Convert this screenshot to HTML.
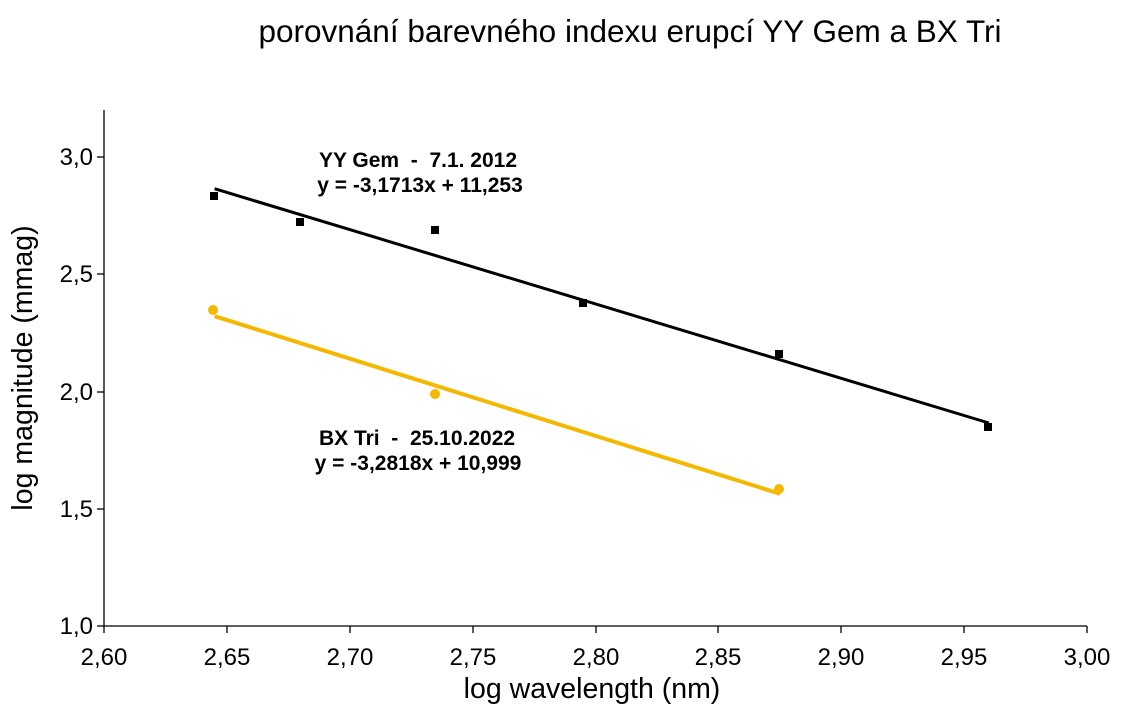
<!DOCTYPE html><html><head><style>body{margin:0;background:#fff}svg{display:block}text{font-family:"Liberation Sans",Arial,sans-serif;fill:#000;white-space:pre}</style></head><body>
<svg width="1125" height="719" viewBox="0 0 1125 719">
<text x="630" y="42" font-size="31.5" text-anchor="middle">porovnání barevného indexu erupcí YY Gem a BX Tri</text>
<g stroke="#000" stroke-width="1.3">
<line x1="104" y1="110" x2="104" y2="626"/><line x1="104" y1="626" x2="1087" y2="626"/>
<line x1="97" y1="157" x2="104" y2="157"/><line x1="97" y1="274" x2="104" y2="274"/><line x1="97" y1="392" x2="104" y2="392"/><line x1="97" y1="509" x2="104" y2="509"/><line x1="97" y1="626" x2="104" y2="626"/>
<line x1="104" y1="626" x2="104" y2="633"/><line x1="227" y1="626" x2="227" y2="633"/><line x1="350" y1="626" x2="350" y2="633"/><line x1="473" y1="626" x2="473" y2="633"/><line x1="596" y1="626" x2="596" y2="633"/><line x1="718" y1="626" x2="718" y2="633"/><line x1="841" y1="626" x2="841" y2="633"/><line x1="964" y1="626" x2="964" y2="633"/><line x1="1087" y1="626" x2="1087" y2="633"/>
</g>
<g font-size="24" text-anchor="end"><text x="93" y="165">3,0</text><text x="93" y="282">2,5</text><text x="93" y="400">2,0</text><text x="93" y="517">1,5</text><text x="93" y="634">1,0</text></g>
<g font-size="24" text-anchor="middle"><text x="104" y="665">2,60</text><text x="227" y="665">2,65</text><text x="350" y="665">2,70</text><text x="473" y="665">2,75</text><text x="596" y="665">2,80</text><text x="718" y="665">2,85</text><text x="841" y="665">2,90</text><text x="964" y="665">2,95</text><text x="1087" y="665">3,00</text></g>
<text x="592" y="698" font-size="28.5" text-anchor="middle">log wavelength (nm)</text>
<text transform="translate(32,368) rotate(-90)" font-size="28.5" text-anchor="middle">log magnitude (mmag)</text>
<line x1="214.6" y1="188.7" x2="988.9" y2="423" stroke="#000" stroke-width="3"/>
<line x1="214.6" y1="316.2" x2="780" y2="493.8" stroke="#f5b800" stroke-width="4"/>
<g fill="#000"><rect x="210" y="192" width="8" height="8"/><rect x="296" y="218" width="8" height="8"/><rect x="431" y="226" width="8" height="8"/><rect x="579" y="299" width="8" height="8"/><rect x="775" y="350" width="8" height="8"/><rect x="984" y="423" width="8" height="8"/></g>
<g fill="#f5b800"><circle cx="213" cy="310" r="5"/><circle cx="435" cy="394" r="5"/><circle cx="779" cy="489" r="5"/></g>
<g font-size="21" font-weight="bold" text-anchor="middle"><text x="418" y="167">YY Gem  -  7.1. 2012</text><text x="420" y="192">y = -3,1713x + 11,253</text><text x="417" y="445">BX Tri  -  25.10.2022</text><text x="418" y="470">y = -3,2818x + 10,999</text></g>
</svg></body></html>
